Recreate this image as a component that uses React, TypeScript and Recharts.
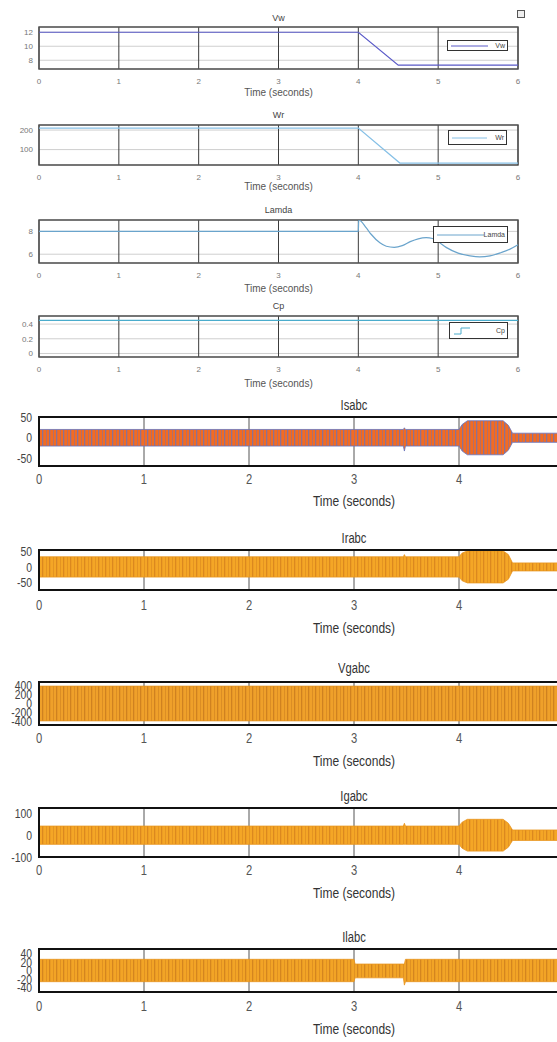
import {
  Area,
  CartesianGrid,
  ComposedChart,
  Legend,
  Line,
  LineChart,
  ReferenceArea,
  XAxis,
  YAxis,
} from "recharts";

const TIME_TICKS = [0, 1, 2, 3, 4, 5, 6];
const LOW_TIME_TICKS = [0, 1, 2, 3, 4];
const TIME_DOMAIN = [0, 6];

// upper scopes (Vw, Wr, Lamda, Cp)
const VW_T = [0, 4, 4.5, 6];
const VW = [12, 12, 7.3, 7.3];
const VW_TICKS = [8, 10, 12];
const VW_DOMAIN = [6.75, 12.75];

const WR_T = [0, 4, 4.52, 6];
const WR = [210, 210, 31, 31];
const WR_TICKS = [100, 200];
const WR_DOMAIN = [21, 226];

const LAMDA_T = [
  0, 4, 4.005, 4.1, 4.16, 4.27, 4.35, 4.45, 4.55, 4.65, 4.75, 4.85, 4.93, 5.0,
  5.1, 5.25, 5.4, 5.52, 5.65, 5.79, 5.9, 6,
];
const LAMDA = [
  8, 8, 9.0, 8.3, 7.75, 7.0, 6.7, 6.6, 6.75, 7.1, 7.35, 7.45, 7.38, 7.1, 6.6,
  6.1, 5.85, 5.76, 5.85, 6.15, 6.45, 6.83,
];
const LAMDA_TICKS = [6, 8];
const LAMDA_DOMAIN = [5.23, 9.0];

const CP_T = [0, 6];
const CP = [0.45, 0.45];
const CP_TICKS = [0, 0.2, 0.4];
const CP_DOMAIN = [-0.048, 0.51];

// lower scopes: envelope of the three-phase waveforms
const IS_T = [0, 3.47, 3.48, 3.49, 4.0, 4.03, 4.08, 4.42, 4.47, 4.51, 6];
const IS_HI = [20, 20, 24, 20, 20, 32, 41, 41, 30, 11, 11];
const IS_LO = [-20, -20, -32, -20, -20, -32, -41, -41, -30, -11, -11];
const IS_TICKS = [-50, 0, 50];
const IS_DOMAIN = [-68, 50];

const IR_T = [0, 3.47, 3.48, 3.49, 4.0, 4.03, 4.08, 4.42, 4.47, 4.51, 6];
const IR_HI = [33, 33, 40, 33, 33, 45, 52, 52, 40, 13, 13];
const IR_LO = [-33, -33, -33, -33, -33, -45, -52, -52, -40, -13, -13];
const IR_TICKS = [-50, 0, 50];
const IR_DOMAIN = [-75, 55];

const VG_T = [0, 6];
const VG_HI = [380, 380];
const VG_LO = [-380, -380];
const VG_TICKS = [-400, -200, 0, 200, 400];
const VG_DOMAIN = [-470, 470];

const IG_T = [0, 3.47, 3.48, 3.49, 4.0, 4.03, 4.08, 4.42, 4.47, 4.51, 6];
const IG_HI = [42, 42, 55, 42, 42, 60, 73, 73, 55, 24, 24];
const IG_LO = [-42, -42, -42, -42, -42, -60, -73, -73, -55, -24, -24];
const IG_TICKS = [-100, 0, 100];
const IG_DOMAIN = [-100, 125];

const IL_T = [0, 3.0, 3.01, 3.47, 3.48, 3.49, 3.5, 6];
const IL_HI = [26, 26, 15, 15, 15, 26, 26, 26];
const IL_LO = [-26, -26, -17, -17, -34, -26, -26, -26];
const IL_TICKS = [-40, -20, 0, 20, 40];
const IL_DOMAIN = [-50, 50];

const TOP_FONT = "'Liberation Sans', Arial, sans-serif";
const LOW_FONT = "'Liberation Sans', Arial, sans-serif";

const Label = ({ x0, x1, y, size, color, font, narrow, children }: any) => (
  <div
    style={{
      position: "absolute",
      left: x0,
      width: x1 - x0,
      top: y - size / 2,
      lineHeight: `${size}px`,
      fontSize: size,
      color,
      fontFamily: font,
      textAlign: "center",
      whiteSpace: "nowrap",
      transform: narrow ? "scaleX(0.8)" : undefined,
    }}
  >
    {children}
  </div>
);

// condensed tick text, like the scope's narrow font
const NarrowTick = ({ x, y, payload, textAnchor, size, color, dy }: any) => (
  <text
    x={x}
    y={y}
    dy={dy}
    textAnchor={textAnchor}
    fontSize={size}
    fill={color}
    fontFamily={LOW_FONT}
    transform={`translate(${x} ${y}) scale(0.8 1) translate(${-x} ${-y})`}
  >
    {payload.value}
  </text>
);

const TX0 = 39;
const TX1 = 518;

type TopProps = {
  title: string;
  color: string;
  t: number[];
  v: number[];
  domain: number[];
  yTicks: number[];
  top: number;
  bottom: number;
  titleY: number;
  timeY: number;
  legend: { x: number; y: number; w: number; h: number };
  curve: "linear" | "monotone" | "stepAfter";
};

const TopPanel = (p: TopProps) => {
  const data = p.t.map((t, i) => ({ t, v: p.v[i] }));
  const width = TX1 + 10;
  const height = p.bottom - p.top + 24;
  const step = p.curve === "stepAfter";
  return (
    <>
      <Label x0={TX0} x1={TX1} y={p.titleY} size={9} color="#444" font={TOP_FONT}>
        {p.title}
      </Label>
      <div style={{ position: "absolute", left: 0, top: p.top - 4 }}>
        <LineChart
          width={width}
          height={height}
          data={data}
          margin={{ top: 4, right: 10, bottom: 0, left: 0 }}
        >
          <CartesianGrid vertical={false} stroke="#cfcfcf" />
          <CartesianGrid horizontal={false} stroke="#3c3c3c" />
          <XAxis
            dataKey="t"
            type="number"
            domain={TIME_DOMAIN}
            ticks={TIME_TICKS}
            interval={0}
            height={20}
            axisLine={false}
            tickLine={false}
            tickSize={4}
            tickMargin={5}
            tick={{ fontSize: 8, fill: "#777", fontFamily: TOP_FONT }}
          />
          <YAxis
            type="number"
            domain={p.domain}
            ticks={p.yTicks}
            interval={0}
            allowDataOverflow
            width={TX0}
            axisLine={false}
            tickLine={false}
            tickSize={4}
            tickMargin={2}
            tick={{ fontSize: 8, fill: "#777", fontFamily: TOP_FONT }}
          />
          <Line
            dataKey="v"
            name={p.title}
            type={p.curve}
            stroke={p.color}
            strokeWidth={1.2}
            dot={false}
            isAnimationActive={false}
          />
          <ReferenceArea
            x1={TIME_DOMAIN[0]}
            x2={TIME_DOMAIN[1]}
            y1={p.domain[0]}
            y2={p.domain[1]}
            fill="none"
            stroke="#505050"
            strokeWidth={1.4}
          />
          <Legend
            layout="vertical"
            align="center"
            verticalAlign="middle"
            wrapperStyle={{
              left: p.legend.x,
              top: p.legend.y - p.top + 4,
              width: p.legend.w,
              height: p.legend.h,
            }}
            content={() => (
              <div
                style={{
                  width: p.legend.w,
                  height: p.legend.h,
                  boxSizing: "border-box",
                  border: "1px solid #333",
                  background: "#fff",
                  display: "flex",
                  alignItems: "center",
                  padding: "0 2px 0 3px",
                  fontSize: 7,
                  color: "#444",
                  fontFamily: TOP_FONT,
                }}
              >
                {step ? (
                  <svg width={18} height={10}>
                    <polyline
                      points="1,8 8,8 8,2 17,2"
                      fill="none"
                      stroke={p.color}
                      strokeWidth={1}
                    />
                  </svg>
                ) : (
                  <svg width={p.legend.w - 24} height={4}>
                    <line
                      x1={0}
                      y1={2}
                      x2={p.legend.w - 24}
                      y2={2}
                      stroke={p.color}
                      strokeWidth={1}
                    />
                  </svg>
                )}
                <span style={{ marginLeft: "auto" }}>{p.title}</span>
              </div>
            )}
          />
        </LineChart>
      </div>
      <Label x0={TX0} x1={TX1} y={p.timeY} size={10} color="#555" font={TOP_FONT}>
        Time (seconds)
      </Label>
    </>
  );
};

const LX0 = 39;
const LX1 = 669;

type AcProps = {
  id: string;
  title: string;
  t: number[];
  hi: number[];
  lo: number[];
  domain: number[];
  yTicks: number[];
  top: number;
  bottom: number;
  titleY: number;
  tickGap: number;
  timeY: number;
  base: string;
  stripe: string;
  edge: string;
};

const AcPanel = (p: AcProps) => {
  const data = p.t.map((t, i) => ({ t, band: [p.lo[i], p.hi[i]] }));
  const width = LX1 + 10;
  const height = p.bottom - p.top + 34;
  return (
    <>
      <Label
        x0={LX0}
        x1={LX1}
        y={p.titleY}
        size={14}
        color="#333"
        font={LOW_FONT}
        narrow
      >
        {p.title}
      </Label>
      <div style={{ position: "absolute", left: 0, top: p.top - 8 }}>
        <ComposedChart
          width={width}
          height={height}
          data={data}
          margin={{ top: 8, right: 10, bottom: 0, left: 0 }}
        >
          <defs>
            <pattern
              id={p.id}
              width={7}
              height={6}
              patternUnits="userSpaceOnUse"
            >
              <rect width={7} height={6} fill={p.base} />
              <rect x={0} width={1.3} height={6} fill={p.stripe} opacity={0.75} />
              <rect x={4} width={0.9} height={6} fill={p.stripe} opacity={0.5} />
            </pattern>
          </defs>
          <CartesianGrid horizontal={false} stroke="#555" />
          <XAxis
            dataKey="t"
            type="number"
            domain={TIME_DOMAIN}
            ticks={LOW_TIME_TICKS}
            interval={0}
            height={26}
            axisLine={false}
            tickLine={false}
            tickSize={4}
            tickMargin={p.tickGap}
            tick={(props: any) => (
              <NarrowTick {...props} size={14} color="#555" dy="0.71em" />
            )}
          />
          <YAxis
            type="number"
            domain={p.domain}
            ticks={p.yTicks}
            interval={0}
            allowDataOverflow
            width={LX0}
            axisLine={false}
            tickLine={false}
            tickSize={4}
            tickMargin={3}
            tick={(props: any) => (
              <NarrowTick {...props} size={13} color="#444" dy="0.355em" />
            )}
          />
          <Area
            dataKey="band"
            type="linear"
            stroke={p.edge}
            strokeWidth={0.8}
            fill={`url(#${p.id})`}
            fillOpacity={1}
            isAnimationActive={false}
          />
          <ReferenceArea
            x1={TIME_DOMAIN[0]}
            x2={TIME_DOMAIN[1]}
            y1={p.domain[0]}
            y2={p.domain[1]}
            fill="none"
            stroke="#111"
            strokeWidth={2}
          />
        </ComposedChart>
      </div>
      <Label
        x0={LX0}
        x1={LX1}
        y={p.timeY}
        size={15}
        color="#333"
        font={LOW_FONT}
        narrow
      >
        Time (seconds)
      </Label>
    </>
  );
};

export default function App() {
  return (
    <div
      style={{
        position: "absolute",
        left: 0,
        top: 0,
        width: 557,
        height: 1042,
        overflow: "hidden",
        background: "#fff",
      }}
    >
      <div
        style={{
          position: "absolute",
          left: 517,
          top: 10,
          width: 6,
          height: 6,
          border: "1px solid #555",
          background: "#eee",
        }}
      />
      <TopPanel
        title="Vw"
        color="#5a5ac8"
        t={VW_T}
        v={VW}
        domain={VW_DOMAIN}
        yTicks={VW_TICKS}
        top={27}
        bottom={69}
        titleY={18}
        timeY={93}
        legend={{ x: 447, y: 40, w: 61, h: 11 }}
        curve="linear"
      />
      <TopPanel
        title="Wr"
        color="#86c0e6"
        t={WR_T}
        v={WR}
        domain={WR_DOMAIN}
        yTicks={WR_TICKS}
        top={125}
        bottom={165}
        titleY={115}
        timeY={187}
        legend={{ x: 448, y: 130, w: 59, h: 15 }}
        curve="linear"
      />
      <TopPanel
        title="Lamda"
        color="#6aa4cc"
        t={LAMDA_T}
        v={LAMDA}
        domain={LAMDA_DOMAIN}
        yTicks={LAMDA_TICKS}
        top={220}
        bottom={263}
        titleY={210}
        timeY={289}
        legend={{ x: 433, y: 226, w: 75, h: 17 }}
        curve="monotone"
      />
      <TopPanel
        title="Cp"
        color="#4aaccc"
        t={CP_T}
        v={CP}
        domain={CP_DOMAIN}
        yTicks={CP_TICKS}
        top={316}
        bottom={357}
        titleY={306}
        timeY={384}
        legend={{ x: 449, y: 322, w: 59, h: 17 }}
        curve="stepAfter"
      />
      <AcPanel
        id="pIs"
        title="Isabc"
        t={IS_T}
        hi={IS_HI}
        lo={IS_LO}
        domain={IS_DOMAIN}
        yTicks={IS_TICKS}
        top={417}
        bottom={466}
        titleY={405}
        tickGap={4}
        timeY={500}
        base="#f26b22"
        stripe="#6772bb"
        edge="#6772bb"
      />
      <AcPanel
        id="pIr"
        title="Irabc"
        t={IR_T}
        hi={IR_HI}
        lo={IR_LO}
        domain={IR_DOMAIN}
        yTicks={IR_TICKS}
        top={550}
        bottom={590}
        titleY={538}
        tickGap={6}
        timeY={627}
        base="#f4a626"
        stripe="#d27d1c"
        edge="#e9961f"
      />
      <AcPanel
        id="pVg"
        title="Vgabc"
        t={VG_T}
        hi={VG_HI}
        lo={VG_LO}
        domain={VG_DOMAIN}
        yTicks={VG_TICKS}
        top={682}
        bottom={725}
        titleY={668}
        tickGap={4}
        timeY={760}
        base="#efa02a"
        stripe="#c4761c"
        edge="#e2921f"
      />
      <AcPanel
        id="pIg"
        title="Igabc"
        t={IG_T}
        hi={IG_HI}
        lo={IG_LO}
        domain={IG_DOMAIN}
        yTicks={IG_TICKS}
        top={808}
        bottom={857}
        titleY={796}
        tickGap={4}
        timeY={892}
        base="#f4a626"
        stripe="#d27d1c"
        edge="#e9961f"
      />
      <AcPanel
        id="pIl"
        title="Ilabc"
        t={IL_T}
        hi={IL_HI}
        lo={IL_LO}
        domain={IL_DOMAIN}
        yTicks={IL_TICKS}
        top={949}
        bottom={992}
        titleY={937}
        tickGap={5}
        timeY={1028}
        base="#f2a426"
        stripe="#c97a1c"
        edge="#e9961f"
      />
    </div>
  );
}
